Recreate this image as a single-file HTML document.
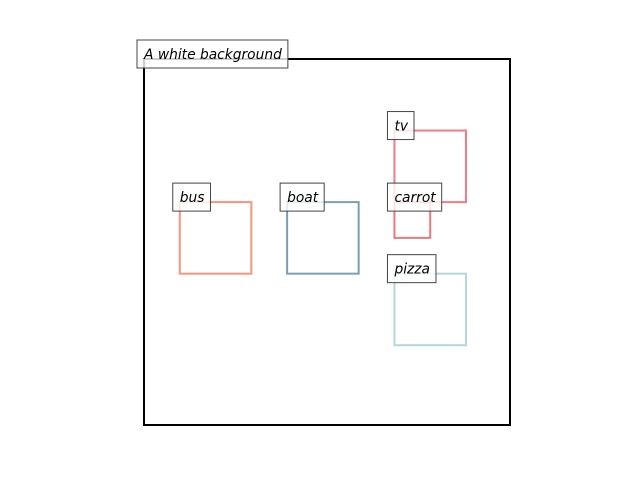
<!DOCTYPE html>
<html><head><meta charset="utf-8"><style>
html,body{margin:0;padding:0;background:#fff;}
svg text{font-family:"DejaVu Sans","Liberation Sans",sans-serif;font-style:italic;font-size:13.8px;}
</style></head><body>
<svg id="chart" width="640" height="480" viewBox="0 0 640 480" xmlns="http://www.w3.org/2000/svg">
<g id="boxes"></g><g id="labels"></g>
</svg>
<script>
const categories = ["bus","boat","tv","carrot","pizza"];
const boxX0 = [1,4,7,7,7];
const boxY0 = [4,4,2,4,6];
const boxX1 = [3,6,9,8,9];
const boxY1 = [6,6,4,5,8];
const colors = ["#f4957f","#7a9fb4","#f07b8b","#e97a7c","#b3d7d8"];
const extent = 10.23;
const ox=144, oy=59, size=366;
const sx = v => ox + v/extent*size;
const sy = v => oy + v/extent*size;
const NS="http://www.w3.org/2000/svg";
const gB=document.getElementById('boxes'), gL=document.getElementById('labels');
function mk(tag,attrs,parent){const e=document.createElementNS(NS,tag);for(const k in attrs)e.setAttribute(k,attrs[k]);parent.appendChild(e);return e;}
function label(x,y,txt,name){
  const g=mk('g',{},gL);
  
  
  const r=mk('rect',{x:x-7,y:y-19,height:28,width:10,fill:'#fff','fill-opacity':0.8,stroke:'#444','stroke-width':1},g);
  const t=mk('text',{x:x,y:y,fill:'#000'},g);
  t.textContent=txt;
  const w=t.getComputedTextLength();
  r.setAttribute('width',w+13);
}
const frame=mk('rect',{x:ox,y:oy,width:size,height:size,fill:'none',stroke:'#000','stroke-width':2},gB);


label(ox,oy,'A white background','background-label');
categories.forEach((c,i)=>{
  const x0=sx(boxX0[i]),y0=sy(boxY0[i]),x1=sx(boxX1[i]),y1=sy(boxY1[i]);
  const r=mk('rect',{x:x0,y:y0,width:x1-x0,height:y1-y0,fill:'none',stroke:colors[i],'stroke-width':2},gB);
  
  
  label(x0,y0,c,'label-'+c);
});
</script>
</body></html>
